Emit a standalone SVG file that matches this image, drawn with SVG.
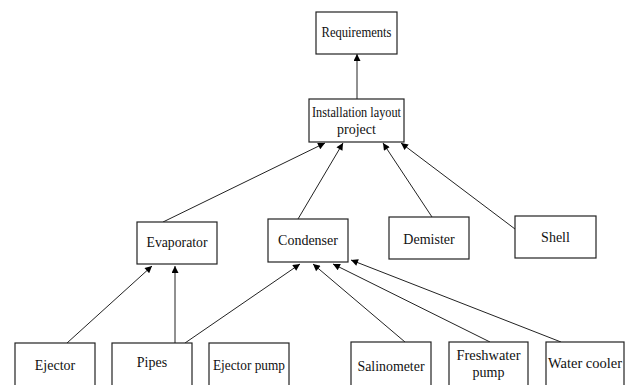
<svg xmlns="http://www.w3.org/2000/svg" width="626" height="385" viewBox="0 0 626 385">
<defs>
<marker id="ah" viewBox="0 0 10 10" refX="10" refY="5" markerWidth="9" markerHeight="7" markerUnits="userSpaceOnUse" orient="auto">
<path d="M0,0 L10,5 L0,10 Z" fill="#000"/>
</marker>
<style>
.box{fill:#fff;stroke:#222;stroke-width:1.2}
.t{font-size:14px;fill:#111;text-anchor:middle}
.c line{stroke:#222;stroke-width:1;marker-end:url(#ah)}
</style>
</defs>
<rect width="626" height="385" fill="#fff"/>
<g class="c" id="connectors">
<line x1="357" y1="99" x2="357" y2="54"/>
<line x1="163" y1="222" x2="325" y2="143"/>
<line x1="298" y1="219" x2="343" y2="143"/>
<line x1="432" y1="217" x2="383" y2="143"/>
<line x1="515" y1="229" x2="401" y2="143"/>
<line x1="67" y1="343" x2="152" y2="266"/>
<line x1="175" y1="343" x2="175" y2="266"/>
<line x1="185" y1="343" x2="300" y2="264"/>
<line x1="405" y1="342" x2="313" y2="264"/>
<line x1="490" y1="342" x2="333" y2="264"/>
<line x1="561" y1="342" x2="351" y2="260"/>
</g>
<g font-family="Liberation Serif, Times New Roman, serif">
<g id="requirements"><rect class="box" x="316" y="12" width="81" height="42"/><text class="t" x="356.5" y="37" textLength="70" lengthAdjust="spacingAndGlyphs">Requirements</text></g>
<g id="installation"><rect class="box" x="309" y="99" width="95" height="43"/><text class="t" x="356.5" y="117" textLength="89" lengthAdjust="spacingAndGlyphs">Installation layout</text><text class="t" x="356.5" y="134">project</text></g>
<g id="evaporator"><rect class="box" x="137" y="222" width="80" height="42"/><text class="t" x="177" y="247" textLength="61" lengthAdjust="spacingAndGlyphs">Evaporator</text></g>
<g id="condenser"><rect class="box" x="268" y="219" width="80" height="43"/><text class="t" x="308" y="245">Condenser</text></g>
<g id="demister"><rect class="box" x="389" y="217" width="80" height="42"/><text class="t" x="429" y="244">Demister</text></g>
<g id="shell"><rect class="box" x="515" y="216" width="81" height="42"/><text class="t" x="555.5" y="242">Shell</text></g>
<g id="ejector"><rect class="box" x="15" y="343" width="80" height="50"/><text class="t" x="55" y="370">Ejector</text></g>
<g id="pipes"><rect class="box" x="112" y="343" width="80" height="50"/><text class="t" x="152" y="367">Pipes</text></g>
<g id="ejector-pump"><rect class="box" x="209" y="343" width="80" height="50"/><text class="t" x="249" y="370" textLength="72" lengthAdjust="spacingAndGlyphs">Ejector pump</text></g>
<g id="salinometer"><rect class="box" x="351" y="342" width="80" height="50"/><text class="t" x="391" y="371" textLength="67" lengthAdjust="spacingAndGlyphs">Salinometer</text></g>
<g id="freshwater-pump"><rect class="box" x="449" y="342" width="79" height="50"/><text class="t" x="488.5" y="360" textLength="64" lengthAdjust="spacingAndGlyphs">Freshwater</text><text class="t" x="488.5" y="377">pump</text></g>
<g id="water-cooler"><rect class="box" x="546" y="342" width="78" height="50"/><text class="t" x="585" y="368" textLength="74" lengthAdjust="spacingAndGlyphs">Water cooler</text></g>
</g>
</svg>
